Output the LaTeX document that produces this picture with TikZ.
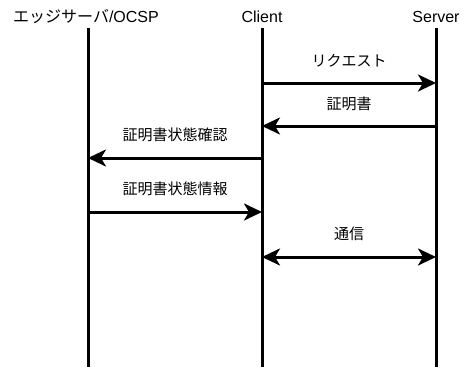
\documentclass[tikz,border=0pt]{standalone}
\usepackage{fontspec}
\setmainfont{Liberation Sans}
\newfontfamily\jp{Noto Sans CJK JP}
\usetikzlibrary{arrows.meta}

\tikzset{
	head/.style={anchor=base, font=\fontsize{16}{18}\selectfont, inner sep=0pt},
	life/.style={line width=3pt},
	msg/.style={line width=3pt, -{Stealth[length=18pt, width=17pt, inset=5pt]}},
	both/.style={line width=3pt, {Stealth[length=18pt, width=17pt, inset=5pt]}-{Stealth[length=18pt, width=17pt, inset=5pt]}},
	lbl/.style={font=\jp\fontsize{15}{17}\selectfont, inner sep=0pt}
}

\begin{document}
\begin{tikzpicture}[x=1pt, y=-1pt]
					\useasboundingbox (0,0) rectangle (470,367);
					
					\node[head] (edge) at (86,22) {{\jp エッジサーバ}/OCSP};
					\node[head] (client) at (262,22) {Client};
					\node[head] (server) at (436,22) {Server};
					
					\coordinate (top) at (0,28);
					\coordinate (bottom) at (0,367);
					
					\draw[life] (88,28) coordinate (e0) -- (88,367) coordinate (e9);
					\draw[life] (client |- top) -- (client |- bottom);
					\draw[life] (server |- top) -- (server |- bottom);
					
					\coordinate (r1) at (0,83);
					\coordinate (r2) at (0,126);
					\coordinate (r3) at (0,158);
					\coordinate (r4) at (0,212);
					\coordinate (r5) at (0,257);
					
					\draw[msg] (client |- r1) -- (server |- r1) node[lbl, midway, above=14pt] (l1) {リクエスト};
					\draw[msg] (server |- r2) -- (client |- r2) node[lbl, midway, above=14pt] (l2) {証明書};
					\draw[msg] (client |- r3) -- (e0 |- r3) node[lbl, midway, above=15pt] (l3) {証明書状態確認};
					\draw[msg] (e0 |- r4) -- (client |- r4) node[lbl, midway, above=15pt] (l4) {証明書状態情報};
					\draw[both] (client |- r5) -- (server |- r5) node[lbl, midway, above=15pt] (l5) {通信};
					\end{tikzpicture}
\end{document}
